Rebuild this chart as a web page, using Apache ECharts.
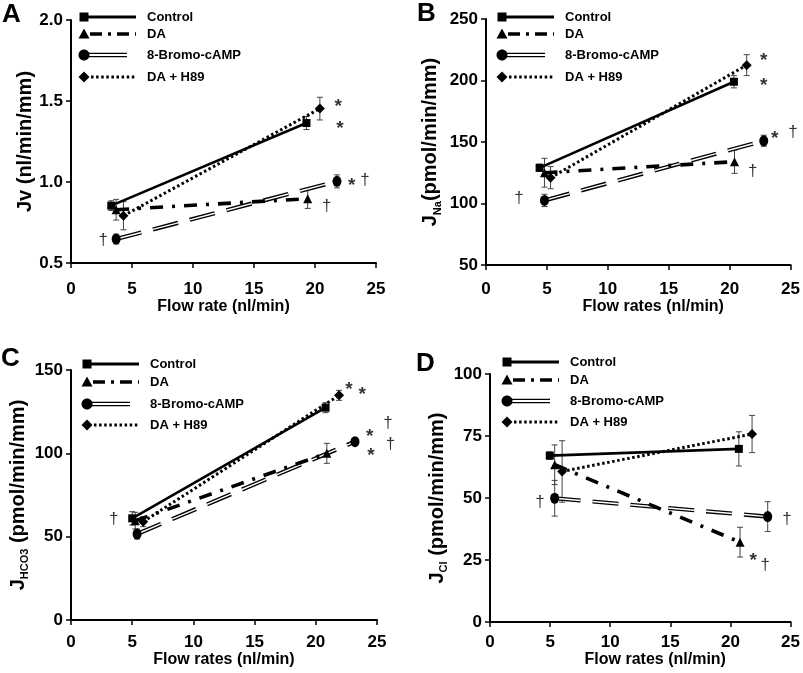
<!DOCTYPE html>
<html><head><meta charset="utf-8">
<script src="https://cdn.jsdelivr.net/npm/echarts@6/dist/echarts.min.js"></script>
<style>html,body{margin:0;padding:0;background:#fff}#c{width:803px;height:673px}</style>
</head><body><div id="c"></div>
<script>
// ---- data: each point = [flow rate, value, error] ----
const legendNames = ['Control', 'DA', '8-Bromo-cAMP', 'DA + H89'];
// Panel A: Jv (nl/min/mm)
const A_control = [[3.3, 0.854, 0.03], [19.3, 1.364, 0.04]];
const A_da      = [[3.7, 0.829, 0.064], [19.4, 0.897, 0.06]];
const A_bromo   = [[3.7, 0.648, 0.03], [21.8, 1.004, 0.04]];
const A_h89     = [[4.3, 0.792, 0.087], [20.4, 1.453, 0.07]];
const A_marks   = [[21.9, 1.49, '*'], [22.05, 1.354, '*'], [23.0, 1.004, '*'], [24.1, 1.008, '†'], [20.96, 0.85, '†'], [2.65, 0.64, '†']];
// Panel B: JNa (pmol/min/mm)
const B_control = [[4.4, 129, 3], [20.35, 199, 5]];
const B_da      = [[4.8, 125, 11.7], [20.4, 134, 9.5]];
const B_bromo   = [[4.8, 102.5, 5], [22.8, 151, 4.5]];
const B_h89     = [[5.3, 121, 9], [21.4, 212.5, 8.5]];
const B_marks   = [[22.8, 219.5, '*'], [22.8, 199, '*'], [23.7, 156, '*'], [25.2, 158, '†'], [21.9, 126, '†'], [2.7, 104.5, '†']];
// Panel C: JHCO3 (pmol/min/mm)
const C_control = [[5.0, 61, 4], [20.8, 127.4, 3]];
const C_da      = [[5.25, 59.6, 5], [20.9, 100, 6]];
const C_bromo   = [[5.4, 51.6, 3], [23.2, 107, 2]];
const C_h89     = [[5.9, 59, 3], [21.9, 134.8, 3]];
const C_marks   = [[3.5, 60.6, '†'], [22.7, 141, '*'], [23.8, 138, '*'], [25.9, 117.8, '†'], [24.4, 112.8, '*'], [26.1, 105.4, '†'], [24.5, 101.4, '*']];
// Panel D: JCl (pmol/min/mm)
const D_control = [[4.97, 67.1, 1.5], [20.7, 69.8, 6.9]];
const D_da      = [[5.38, 63.4, 8], [20.8, 32.2, 6]];
const D_bromo   = [[5.38, 49.9, 7.2], [23.1, 42.5, 6]];
const D_h89     = [[6.0, 60.7, 12.4], [21.8, 75.8, 7.5]];
const D_marks   = [[4.15, 48.2, '†'], [24.7, 41.5, '†'], [21.9, 26.7, '*'], [22.9, 22.7, '†']];

const xTicks = { min: 0, max: 25, interval: 5 };
const yA = { min: 0.5, max: 2.0, interval: 0.5 };
const yB = { min: 50, max: 250, interval: 50 };
const yC = { min: 0, max: 150, interval: 50 };
const yD = { min: 0, max: 100, interval: 25 };

// ---- layout ----
const FONT = 'Liberation Sans, Arial, sans-serif';
const panels = [
  { grid: { left: 71, top: 20, width: 305, height: 243 }, y: yA, fmt: v => v.toFixed(1),
    yName: 'Jv (nl/min/mm)', yGap: 29, xName: 'Flow rate (nl/min)', xGap: 36, xPad: 0,
    d: [A_control, A_da, A_bromo, A_h89], marks: A_marks, lab: 18 },
  { grid: { left: 486, top: 19, width: 306, height: 246 }, y: yB, fmt: v => String(v),
    yName: '{m|J}{s|Na}{m|(pmol/min/mm)}', yGap: 43, xName: 'Flow rates (nl/min)', xGap: 31, xPad: 30,
    d: [B_control, B_da, B_bromo, B_h89], marks: B_marks, lab: 16 },
  { grid: { left: 71, top: 370, width: 306, height: 250 }, y: yC, fmt: v => String(v),
    yName: '{m|J}{s|HCO3}{m| (pmol/min/mm)}', yGap: 37, xName: 'Flow rates (nl/min)', xGap: 29, xPad: 0,
    d: [C_control, C_da, C_bromo, C_h89], marks: C_marks, lab: 14 },
  { grid: { left: 490, top: 374, width: 305, height: 248 }, y: yD, fmt: v => String(v),
    yName: '{m|J}{s|Cl}{m| (pmol/min/mm)}', yGap: 35, xName: 'Flow rates (nl/min)', xGap: 28, xPad: 30,
    d: [D_control, D_da, D_bromo, D_h89], marks: D_marks, lab: 12 }
];

const DASHDOT = [13, 9, 3, 9];
const DOTTED = [2.5, 2.6];
const DOUBLE = [26, 12];

function errRender(params, api) {
  const x = api.value(0), y = api.value(1), e = api.value(2);
  const t = api.coord([x, y + e]), b = api.coord([x, y - e]);
  const w = 3, st = { stroke: '#444', lineWidth: 1 };
  return { type: 'group', children: [
    { type: 'line', shape: { x1: t[0], y1: t[1], x2: b[0], y2: b[1] }, style: st },
    { type: 'line', shape: { x1: t[0] - w, y1: t[1], x2: t[0] + w, y2: t[1] }, style: st },
    { type: 'line', shape: { x1: b[0] - w, y1: b[1], x2: b[0] + w, y2: b[1] }, style: st }
  ] };
}

const grids = [], xAxes = [], yAxes = [], series = [];
panels.forEach((p, i) => {
  grids.push(p.grid);
  const axisCommon = {
    axisLine: { show: true, lineStyle: { color: '#000', width: 2 } },
    axisTick: { show: true, inside: false, length: 5, lineStyle: { color: '#000', width: 1.5 } },
    splitLine: { show: false },
    axisLabel: { color: '#000', fontFamily: FONT, fontWeight: 'bold', fontSize: 17 }
  };
  xAxes.push(Object.assign({}, axisCommon, {
    type: 'value', gridIndex: i, min: xTicks.min, max: xTicks.max, interval: xTicks.interval,
    name: p.xName, nameLocation: 'middle', nameGap: p.xGap,
    nameTextStyle: { color: '#000', fontFamily: FONT, fontWeight: 'bold', fontSize: 16, padding: [0, 0, 0, p.xPad] },
    axisLabel: Object.assign({}, axisCommon.axisLabel, { margin: p.lab })
  }));
  yAxes.push(Object.assign({}, axisCommon, {
    type: 'value', gridIndex: i, min: p.y.min, max: p.y.max, interval: p.y.interval,
    name: p.yName, nameLocation: 'middle', nameGap: p.yGap,
    nameTextStyle: { color: '#000', fontFamily: FONT, fontWeight: 'bold', fontSize: 20,
      rich: { m: { fontFamily: FONT, fontWeight: 'bold', fontSize: 20, lineHeight: 25, color: '#000' },
              s: { fontFamily: FONT, fontWeight: 'bold', fontSize: 11, lineHeight: 12, verticalAlign: 'bottom', color: '#000' } } },
    axisLabel: Object.assign({}, axisCommon.axisLabel, { margin: 8, formatter: p.fmt })
  }));
  const xy = a => a.map(r => [r[0], r[1]]);
  const [ctrl, da, br, h] = p.d;
  // error bars
  [ctrl, da, br, h].forEach(arr => series.push({
    type: 'custom', xAxisIndex: i, yAxisIndex: i, renderItem: errRender, data: arr,
    encode: { x: 0, y: 1 }, z: 1, silent: true
  }));
  // 8-Bromo-cAMP double dashed line
  series.push({ type: 'line', name: legendNames[2], xAxisIndex: i, yAxisIndex: i, data: xy(br), symbol: 'none',
    lineStyle: { color: '#000', width: 4.2, type: DOUBLE }, z: 2, silent: true });
  series.push({ type: 'line', xAxisIndex: i, yAxisIndex: i, data: xy(br), symbol: 'none',
    lineStyle: { color: '#fff', width: 1.4, type: DOUBLE }, z: 3, silent: true });
  series.push({ type: 'scatter', xAxisIndex: i, yAxisIndex: i, data: xy(br), symbol: 'circle', symbolSize: [9, 11],
    itemStyle: { color: '#000', opacity: 1 }, z: 6, silent: true });
  // Control
  series.push({ type: 'line', name: legendNames[0], xAxisIndex: i, yAxisIndex: i, data: xy(ctrl),
    symbol: 'rect', symbolSize: 8, itemStyle: { color: '#000' }, lineStyle: { color: '#000', width: 2.6 }, z: 4, silent: true });
  // DA
  series.push({ type: 'line', name: legendNames[1], xAxisIndex: i, yAxisIndex: i, data: xy(da),
    symbol: 'triangle', symbolSize: 9, itemStyle: { color: '#000' }, lineStyle: { color: '#000', width: 3.6, type: DASHDOT }, z: 4, silent: true });
  // DA + H89
  series.push({ type: 'line', name: legendNames[3], xAxisIndex: i, yAxisIndex: i, data: xy(h),
    symbol: 'diamond', symbolSize: 10, itemStyle: { color: '#000' }, lineStyle: { color: '#000', width: 3, type: DOTTED }, z: 4, silent: true });
  // significance marks
  series.push({ type: 'scatter', xAxisIndex: i, yAxisIndex: i, data: p.marks, symbolSize: 1, clip: false,
    itemStyle: { color: 'rgba(0,0,0,0)' }, z: 7, silent: true,
    label: { show: true, position: 'inside', formatter: q => (q.data[2] === '*' ? '{a|*}' : '{d|†}'),
      rich: { a: { color: '#000', fontFamily: FONT, fontSize: 19, fontWeight: 'bold', padding: [9, 0, 0, 0] },
              d: { color: '#000', fontFamily: FONT, fontSize: 17 } } } });
});

// ---- legends (drawn as graphics) ----
function legendGraphic(x0, ys) {
  const els = [];
  const tx = x0 + 63, lineEnd = x0 + 52;
  const ts = t => ({ text: t, fill: '#000', font: 'bold 13px ' + FONT, textVerticalAlign: 'middle' });
  els.push({ type: 'rect', shape: { x: x0 - 4.5, y: ys[0] - 4.5, width: 9, height: 9 }, style: { fill: '#000' } });
  els.push({ type: 'line', shape: { x1: x0 + 4, y1: ys[0], x2: lineEnd, y2: ys[0] }, style: { stroke: '#000', lineWidth: 3 } });
  els.push({ type: 'text', x: tx, y: ys[0], style: ts(legendNames[0]) });
  els.push({ type: 'polygon', shape: { points: [[x0, ys[1] - 5.5], [x0 - 5.5, ys[1] + 4.5], [x0 + 5.5, ys[1] + 4.5]] }, style: { fill: '#000' } });
  els.push({ type: 'line', shape: { x1: x0 + 6, y1: ys[1], x2: lineEnd, y2: ys[1] }, style: { stroke: '#000', lineWidth: 3.5, lineDash: [12, 6, 3, 6] } });
  els.push({ type: 'text', x: tx, y: ys[1], style: ts(legendNames[1]) });
  els.push({ type: 'ellipse', shape: { cx: x0, cy: ys[2], rx: 5.5, ry: 5.5 }, style: { fill: '#000' } });
  els.push({ type: 'line', shape: { x1: x0 + 4, y1: ys[2] - 1.6, x2: x0 + 43, y2: ys[2] - 1.6 }, style: { stroke: '#000', lineWidth: 1.1 } });
  els.push({ type: 'line', shape: { x1: x0 + 4, y1: ys[2] + 1.6, x2: x0 + 43, y2: ys[2] + 1.6 }, style: { stroke: '#000', lineWidth: 1.1 } });
  els.push({ type: 'text', x: tx, y: ys[2], style: ts(legendNames[2]) });
  els.push({ type: 'polygon', shape: { points: [[x0, ys[3] - 5.5], [x0 + 5.5, ys[3]], [x0, ys[3] + 5.5], [x0 - 5.5, ys[3]]] }, style: { fill: '#000' } });
  els.push({ type: 'line', shape: { x1: x0 + 7, y1: ys[3], x2: lineEnd, y2: ys[3] }, style: { stroke: '#000', lineWidth: 3, lineDash: [2.5, 2.6] } });
  els.push({ type: 'text', x: tx, y: ys[3], style: ts(legendNames[3]) });
  return els;
}
const letter = (t, x, y) => ({ type: 'text', x: x, y: y, style: { text: t, fill: '#000', font: 'bold 26px ' + FONT, textVerticalAlign: 'top' } });

const graphic = [].concat(
  legendGraphic(84, [17, 34, 55, 77]),
  legendGraphic(502, [17, 34, 55, 77]),
  legendGraphic(87, [364, 382, 404, 425]),
  legendGraphic(507, [362, 380, 401, 422]),
  [letter('A', 2, 2), letter('B', 417, 1), letter('C', 1, 346), letter('D', 416, 351)]
);

const chart = echarts.init(document.getElementById('c'), null, { renderer: 'canvas' });
chart.setOption({
  backgroundColor: '#fff',
  animation: false,
  grid: grids, xAxis: xAxes, yAxis: yAxes, series: series, graphic: graphic
});
</script></body></html>
